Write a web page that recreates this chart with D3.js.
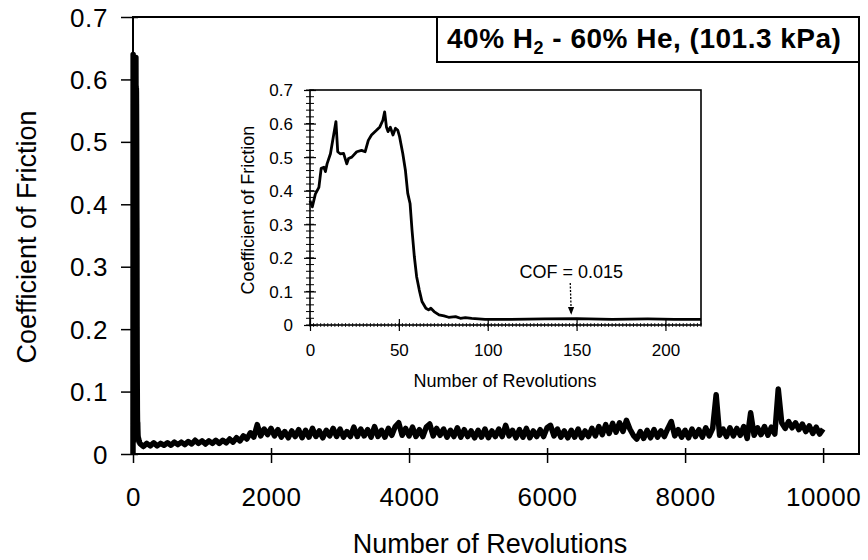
<!DOCTYPE html>
<html>
<head>
<meta charset="utf-8">
<script src="https://cdn.jsdelivr.net/npm/d3@7"></script>
<style>
  body { margin: 0; background: #fff; }
  svg { font-family: "Liberation Sans", Arial, sans-serif; }
</style>
</head>
<body>
<div id="container"></div>
<script>
// inset run-in data (first 220 revolutions)
var insetRev = [0, 1.3, 3, 5, 6.3, 7.8, 8.7, 9.6, 11.5, 13.3, 14.6, 15.6, 17, 18.9, 20.7, 21.7, 23.5, 26.3, 29, 31,
  32.8, 34.6, 37.4, 39.3, 41, 42, 43, 43.9, 45.2, 46.7, 48.1, 49.4, 50.4, 52.2, 53.7, 55, 56.3, 57.4, 58.7, 60,
  61.5, 63, 65.2, 66.7, 68, 69.8, 72.6, 75.4, 78, 81.9, 84.6, 87.4, 91, 98.5, 113, 132, 150, 170, 190, 205, 220];
var insetCof = [0.37, 0.352, 0.39, 0.41, 0.467, 0.47, 0.457, 0.48, 0.51, 0.566, 0.606, 0.516, 0.51, 0.511, 0.48, 0.496, 0.50, 0.516, 0.52, 0.516,
  0.55, 0.566, 0.58, 0.59, 0.61, 0.635, 0.59, 0.576, 0.589, 0.566, 0.586, 0.58, 0.561, 0.511, 0.46, 0.392, 0.362, 0.283, 0.204, 0.144,
  0.104, 0.07, 0.05, 0.045, 0.05, 0.04, 0.03, 0.027, 0.023, 0.025, 0.02, 0.022, 0.02, 0.017, 0.017, 0.018, 0.019, 0.017, 0.018, 0.017, 0.017];

// main plot start: trace rises from zero into the run-in spike
var mainLeadRev = [0, 2, 4, 6];
var mainLeadCof = [0.0, 0.64, 0.02, 0.62];

// long test, sampled every 50 revolutions from 150 on
var mainStart = 150, mainStep = 50;
var mainCof = [
  0.012, 0.017, 0.013, 0.018, 0.013, 0.017, 0.014, 0.018, 0.014, 0.019, 0.015, 0.019, 0.015, 0.020, 0.016, 0.022, 0.017, 0.021, 0.016, 0.021,
  0.017, 0.022, 0.017, 0.022, 0.018, 0.024, 0.019, 0.026, 0.021, 0.029, 0.024, 0.034, 0.027, 0.047, 0.029, 0.040, 0.031, 0.041, 0.029, 0.039,
  0.027, 0.036, 0.026, 0.037, 0.028, 0.039, 0.026, 0.038, 0.027, 0.041, 0.028, 0.037, 0.026, 0.038, 0.029, 0.041, 0.028, 0.040, 0.027, 0.036,
  0.028, 0.043, 0.028, 0.040, 0.029, 0.039, 0.027, 0.044, 0.028, 0.038, 0.027, 0.041, 0.030, 0.044, 0.050, 0.030, 0.041, 0.029, 0.043, 0.028,
  0.039, 0.028, 0.043, 0.048, 0.029, 0.041, 0.030, 0.040, 0.027, 0.038, 0.028, 0.042, 0.027, 0.039, 0.028, 0.037, 0.026, 0.038, 0.027, 0.040,
  0.026, 0.037, 0.028, 0.040, 0.028, 0.046, 0.029, 0.038, 0.026, 0.039, 0.027, 0.041, 0.026, 0.037, 0.028, 0.039, 0.028, 0.042, 0.046, 0.029,
  0.040, 0.027, 0.037, 0.026, 0.038, 0.027, 0.040, 0.026, 0.037, 0.028, 0.041, 0.029, 0.044, 0.031, 0.047, 0.033, 0.049, 0.035, 0.050, 0.036,
  0.054, 0.040, 0.030, 0.024, 0.036, 0.025, 0.038, 0.026, 0.039, 0.027, 0.037, 0.028, 0.041, 0.052, 0.029, 0.039, 0.027, 0.038, 0.026, 0.040,
  0.028, 0.039, 0.027, 0.042, 0.029, 0.041, 0.095, 0.030, 0.040, 0.028, 0.042, 0.029, 0.041, 0.030, 0.044, 0.025, 0.066, 0.030, 0.042, 0.031,
  0.044, 0.030, 0.043, 0.032, 0.104, 0.050, 0.041, 0.052, 0.042, 0.050, 0.039, 0.048, 0.036, 0.045, 0.033, 0.043, 0.032, 0.040];

var mainXTicks = [0, 2000, 4000, 6000, 8000, 10000];
var cofTicks = [0, 0.1, 0.2, 0.3, 0.4, 0.5, 0.6, 0.7];
var insetXTicks = [0, 50, 100, 150, 200];
var cofNote = {rev: 147, value: 0.015, text: "COF = 0.015"};

function cofFmt(d) { return d === 0 ? "0" : d.toFixed(1); }

var svg = d3.select("#container").append("svg")
  .attr("width", 868).attr("height", 560);

// ---------- main chart ----------
var x = d3.scaleLinear().domain([0, 10520]).range([133, 859]);
var y = d3.scaleLinear().domain([0, 0.7]).range([454, 17]);

var mainData = mainLeadRev.map((r, i) => ({rev: r, cof: mainLeadCof[i]}));
insetRev.forEach((r, i) => { if (r >= 40 && r <= 100) mainData.push({rev: r, cof: insetCof[i]}); });
mainCof.forEach((v, i) => mainData.push({rev: mainStart + i * mainStep, cof: v}));

svg.append("path")
  .datum(mainData)
  .attr("fill", "none")
  .attr("stroke", "#000")
  .attr("stroke-width", 5.5)
  .attr("stroke-linejoin", "round")
  .attr("d", d3.line().x(d => x(d.rev)).y(d => y(d.cof)));

var gx = svg.append("g")
  .attr("transform", "translate(0,454)")
  .call(d3.axisBottom(x).tickValues(mainXTicks).tickFormat(d3.format("d")).tickSize(9));
gx.select(".domain").remove();
gx.selectAll(".tick line").attr("y1", -6).attr("stroke-width", 1.5);
gx.selectAll(".tick text").attr("y", 52).attr("dy", null)
  .attr("font-size", 26).attr("letter-spacing", 0.6).attr("font-family", null).attr("fill", "#000");

var gy = svg.append("g")
  .attr("transform", "translate(133,0)")
  .call(d3.axisLeft(y).tickValues(cofTicks).tickFormat(cofFmt).tickSize(12));
gy.select(".domain").remove();
gy.selectAll(".tick line").attr("x1", 5).attr("stroke-width", 1.5);
gy.selectAll(".tick text").attr("x", -25).attr("dy", "0.35em")
  .attr("font-size", 26).attr("letter-spacing", 0.6).attr("font-family", null).attr("fill", "#000");

svg.append("rect")
  .attr("x", 133).attr("y", 17).attr("width", 859 - 133).attr("height", 454 - 17)
  .attr("fill", "none").attr("stroke", "#000").attr("stroke-width", 2);

svg.append("text")
  .attr("x", 490).attr("y", 553)
  .attr("text-anchor", "middle").attr("font-size", 27)
  .text("Number of Revolutions");

svg.append("text")
  .attr("transform", "translate(36,237) rotate(-90)")
  .attr("text-anchor", "middle").attr("font-size", 27)
  .text("Coefficient of Friction");

// title box
svg.append("rect")
  .attr("x", 437).attr("y", 17).attr("width", 859 - 437).attr("height", 45)
  .attr("fill", "#fff").attr("stroke", "#000").attr("stroke-width", 2);
var title = svg.append("text")
  .attr("x", 447).attr("y", 48)
  .attr("font-size", 28).attr("font-weight", "bold").attr("letter-spacing", 0.5);
title.append("tspan").text("40% H");
title.append("tspan").attr("font-size", 18).attr("dy", 6).text("2");
title.append("tspan").attr("dy", -6).text(" - 60% He, (101.3 kPa)");

// ---------- inset ----------
var ix = d3.scaleLinear().domain([0, 220]).range([310, 701]);
var iy = d3.scaleLinear().domain([0, 0.7]).range([325, 90]);

svg.append("rect")
  .attr("x", 310).attr("y", 90).attr("width", 701 - 310).attr("height", 325 - 90)
  .attr("fill", "#fff");

// minor ticks
svg.append("g").selectAll("line")
  .data(d3.range(0, 0.701, 0.02))
  .enter().append("line")
    .attr("x1", 306).attr("x2", 314)
    .attr("y1", d => iy(d)).attr("y2", d => iy(d))
    .attr("stroke", "#000").attr("stroke-width", 1);
svg.append("g").selectAll("line")
  .data(d3.range(0, 221, 2))
  .enter().append("line")
    .attr("x1", d => ix(d)).attr("x2", d => ix(d))
    .attr("y1", 323).attr("y2", 327)
    .attr("stroke", "#000").attr("stroke-width", 0.8);

var igx = svg.append("g")
  .attr("transform", "translate(0,325)")
  .call(d3.axisBottom(ix).tickValues(insetXTicks).tickSize(6));
igx.select(".domain").remove();
igx.selectAll(".tick line").attr("y1", -6).attr("stroke-width", 1.2);
igx.selectAll(".tick text").attr("y", 31).attr("dy", null)
  .attr("font-size", 17).attr("font-family", null).attr("fill", "#000");

var igy = svg.append("g")
  .attr("transform", "translate(310,0)")
  .call(d3.axisLeft(iy).tickValues(cofTicks).tickFormat(cofFmt).tickSize(6));
igy.select(".domain").remove();
igy.selectAll(".tick line").attr("x1", 6).attr("stroke-width", 1.2);
igy.selectAll(".tick text").attr("x", -17).attr("dy", "0.35em")
  .attr("font-size", 17).attr("font-family", null).attr("fill", "#000");

svg.append("rect")
  .attr("x", 310).attr("y", 90).attr("width", 701 - 310).attr("height", 325 - 90)
  .attr("fill", "none").attr("stroke", "#000").attr("stroke-width", 1.6);

svg.append("path")
  .datum(insetRev.map((r, i) => ({rev: r, cof: insetCof[i]})))
  .attr("fill", "none")
  .attr("stroke", "#000")
  .attr("stroke-width", 2.8)
  .attr("stroke-linejoin", "round")
  .attr("d", d3.line().x(d => ix(d.rev)).y(d => iy(d.cof)));

svg.append("text")
  .attr("x", 505).attr("y", 387)
  .attr("text-anchor", "middle").attr("font-size", 18)
  .text("Number of Revolutions");

svg.append("text")
  .attr("transform", "translate(254,210) rotate(-90)")
  .attr("text-anchor", "middle").attr("font-size", 18)
  .text("Coefficient of Friction");

// COF annotation with arrow
svg.append("defs").append("marker")
  .attr("id", "arrow")
  .attr("viewBox", "0 0 10 10").attr("refX", 9).attr("refY", 5)
  .attr("markerWidth", 6).attr("markerHeight", 6)
  .attr("orient", "auto")
  .append("path").attr("d", "M0,1 L10,5 L0,9 Z").attr("fill", "#000");

svg.append("text")
  .attr("x", ix(cofNote.rev)).attr("y", iy(cofNote.value) - 42)
  .attr("text-anchor", "middle").attr("font-size", 18)
  .text(cofNote.text);

svg.append("line")
  .attr("x1", ix(cofNote.rev) - 1).attr("y1", iy(cofNote.value) - 37)
  .attr("x2", ix(cofNote.rev)).attr("y2", iy(cofNote.value) - 6)
  .attr("stroke", "#000").attr("stroke-width", 1.3)
  .attr("stroke-dasharray", "2,1.5")
  .attr("marker-end", "url(#arrow)");
</script>
</body>
</html>
